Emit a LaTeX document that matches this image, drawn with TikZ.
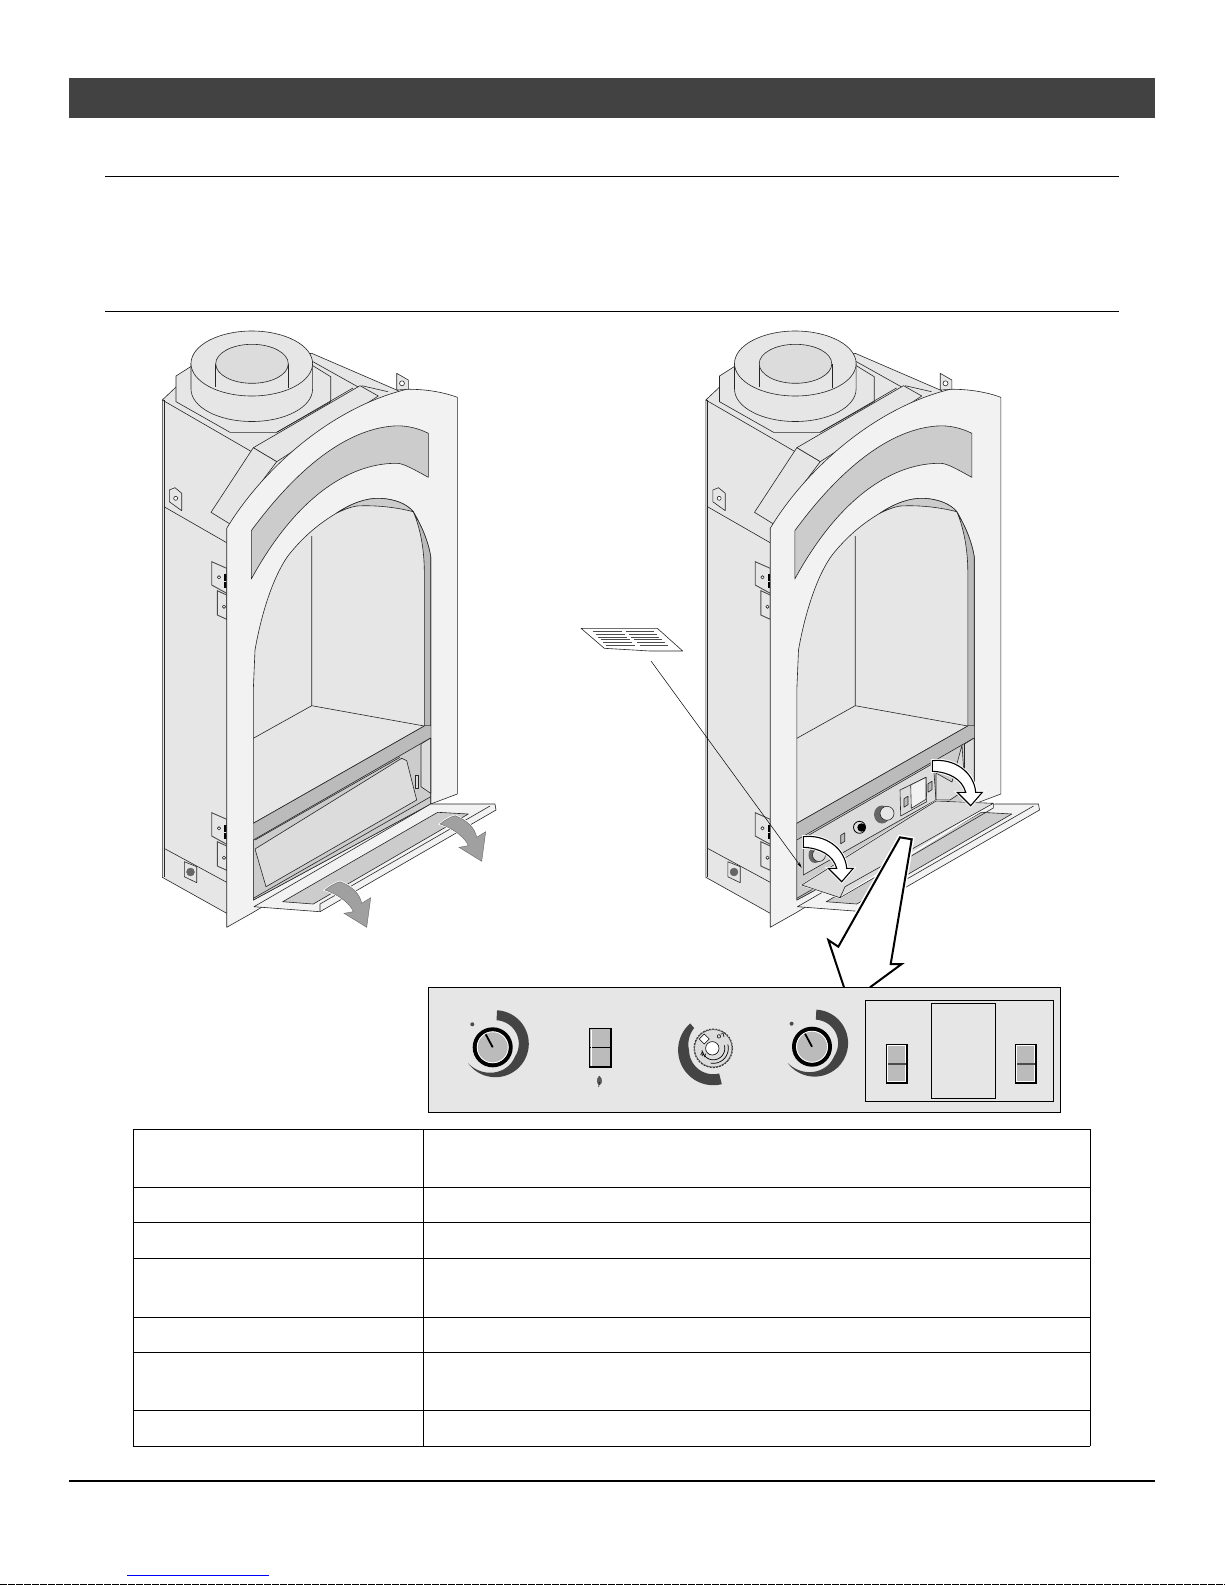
\documentclass[tikz,border=0pt]{standalone}
\usepackage{fontspec}
\setsansfont{Liberation Sans}
\usetikzlibrary{arrows.meta}
\definecolor{hdr}{HTML}{424242}
\definecolor{gf}{HTML}{F2F2F2}
\definecolor{ge}{HTML}{E6E6E6}
\definecolor{gd}{HTML}{DCDCDC}
\definecolor{gc}{HTML}{CCCCCC}
\definecolor{gb}{HTML}{BBBBBB}
\definecolor{ga}{HTML}{A0A0A0}
\definecolor{gk}{HTML}{444444}
\tikzset{
  edge/.style={draw=black!85,line width=.6pt,line join=round},
  rule/.style={black,line width=1pt},
  grayarrow/.style={fill=ga,draw=black!60,line width=.4pt},
  whitearrow/.style={fill=white,draw=black,line width=1.1pt,line join=miter},
  rockerbox/.style={fill=gb,draw=black,line width=1pt},
  dial/.style={fill=gk},
}
\begin{document}
\begin{tikzpicture}[x=1pt,y=-1pt]
	\useasboundingbox[fill=white] (0,0) rectangle (1225,1585);
	% Page furniture
	\fill[hdr] (69,78) rectangle (1155,118);
	\draw[rule] (105,176.5) -- (1119,176.5);
	\draw[rule] (105,311.5) -- (1119,311.5);
	\draw[black,line width=2pt] (69,1481) -- (1155,1481);
	\draw[blue,line width=1pt] (127,1575.3) -- (269,1575.3);
	\draw[black,line width=1pt,dash pattern=on 7pt off 1pt] (0,1584.5) -- (1225,1584.5);
	% Table
	\foreach \y in {1129,1187,1222,1258,1317,1352,1410,1446}
		\draw[rule] (133,\y) -- (1090,\y);
	\draw[rule] (133,1129) -- (133,1446);
	\draw[rule] (1090,1129) -- (1090,1446);
	\draw[black,line width=.7pt] (423,1129) -- (423,1446);
	% Fireplaces
	\foreach \dx in {0,543.5} {
		\begin{scope}[shift={(\dx,0)}]
			\filldraw[edge,fill=ge] (162.3,400) -- (192,372) -- (311.7,353.3) -- (398.3,390.7) -- (398,500) -- (226.7,913.3) -- (162.3,877.3) -- cycle; % body
			\draw[edge] (164,400) -- (164,877);
			\draw[edge] (164,506.7) -- (226.7,542.7);
			\draw[edge] (164,848.3) -- (226.7,882.3);
			\draw[edge] (162.3,400) -- (251.7,451.7);
			% top tab
			\filldraw[edge,fill=ge] (396.7,373.3) -- (396.7,390) -- (408.3,389.3) -- (408.3,380) -- cycle;
			\filldraw[edge,fill=white] (402,383.3) circle (2.5);
			% side tab
			\filldraw[edge,fill=ge] (169.3,490) -- (169.3,501.7) -- (181.7,510.7) -- (181.7,493.3) -- (175,487.7) -- cycle;
			\filldraw[edge,fill=white] (175.7,498.3) circle (2);
			% vent
			\filldraw[edge,fill=ge] (184.3,861.7) -- (184.3,876.7) -- (196.7,882.7) -- (196.7,866.7) -- cycle;
			\filldraw[black!60] (190.5,872) circle (4);
			% hinge plates
			\foreach \yy in {0,251} {
				\begin{scope}[shift={(0,\yy)}]
					\filldraw[draw=black!70,line width=.9pt,fill=ge] (211.7,561.7) -- (211.7,585) -- (226.7,593.3) -- (226.7,568.3) -- cycle;
					\filldraw[edge,fill=white] (219,577.3) circle (1.7);
					\fill[black] (224,574) rectangle (226.7,580.7);
					\fill[black] (224,582.3) rectangle (226.7,588.3);
					\filldraw[draw=black!70,line width=.9pt,fill=ge] (217.3,590.7) -- (217.3,615) -- (226.7,619.3) -- (226.7,595) -- cycle;
					\filldraw[edge,fill=white] (224,606.7) circle (1.7);
				\end{scope}
			}
			% collar and flue
			\draw[edge] (311.7,361) -- (360,388);
			\filldraw[edge,fill=ge] (176,376) -- (191.7,366) -- (311.7,365) -- (330.7,376.7) -- (330.7,401.7) -- (276.7,432.3) -- (230,432.3) -- (176,401.7) -- cycle;
			\filldraw[edge,fill=ge] (191,363.5) -- (191,389) .. controls (191,407) and (218,421.5) .. (251.8,421.5) .. controls (285.5,421.5) and (312.6,407) .. (312.6,389) -- (312.6,363.5) -- cycle;
			\filldraw[edge,fill=ge] (251.8,363.5) ellipse (60.8 and 32.5);
			\draw[edge] (215.7,364) -- (215.7,386.7);
			\draw[edge] (288.3,364) -- (288.3,388.3);
			\filldraw[edge,fill=gd] (252,363.8) ellipse (36.3 and 19.5);
			% hood
			\filldraw[edge,fill=ge] (253.3,447.7) -- (360,385.7) -- (378.3,396) -- (276.7,461.7) -- cycle;
			\draw[edge] (276.7,432.3) -- (353,388);
			\draw[edge] (361.7,385.7) -- (388,391.7);
			\filldraw[edge,fill=ge] (253.3,447.7) -- (211,512.3) -- (230,524) -- (276.7,461.7) -- cycle;
			% front frame
			\filldraw[edge,fill=gf] (226.7,927.3) -- (226.7,528.3) .. controls (262,470) and (330,408) .. (406.7,389.3) .. controls (425,389) and (443,392) .. (457.3,397.3) -- (457.3,794) -- (430.7,804) -- (253.3,912.3) -- cycle;
			\filldraw[edge,fill=gc] (251.3,530.7) .. controls (290,478) and (340,430) .. (393.3,426) .. controls (405,425) and (418,428) .. (428.3,433.3) -- (428.3,477.3) .. controls (415,470) and (403,463) .. (396.7,463.3) .. controls (355,463) and (300,490) .. (251.3,579) -- cycle;
			% opening
			\filldraw[edge,fill=ge] (253.3,900) -- (253.3,690) -- (255,650) .. controls (262,610) and (275,572) .. (290,553.3) .. controls (305,535) and (320,523) .. (336.7,513) .. controls (352,503) and (366,498) .. (380,498.3) .. controls (395,499) and (407,504) .. (413.3,511.7) .. controls (421,525) and (428,540) .. (430.7,556.7) -- (430.7,804) -- cycle;
			\filldraw[edge,fill=gc] (336.7,513) .. controls (352,503) and (366,498) .. (380,498.3) .. controls (395,499) and (407,504) .. (413.3,511.7) .. controls (395,507) and (375,505) .. (356.7,506) .. controls (350,507) and (343,510) .. (336.7,513) -- cycle;
			\filldraw[edge,fill=gb] (413.3,511.7) .. controls (419,525) and (424,545) .. (424.3,570) -- (424.3,726) -- (430.7,726) -- (430.7,556.7) .. controls (428,540) and (421,525) .. (413.3,511.7) -- cycle;
			\draw[edge] (311.7,536) -- (311.7,705.7) -- (253.3,738.3);
			\draw[edge] (311.7,705.7) -- (424.3,726);
			% recess under the floor
			\filldraw[edge,fill=gc] (253.3,823.3) -- (424.3,726) -- (430.7,726) -- (430.7,804) -- (253.3,900) -- cycle;
			\fill[gb] (253.3,823.3) -- (424.3,726) -- (430.7,726) -- (430.7,738.3) -- (253.3,840) -- cycle;
			\draw[edge] (253.3,823.3) -- (424.3,726);
			\draw[edge] (253.3,840) -- (430,738.3);
			\filldraw[edge,fill=gd] (421,744) -- (421,786.7) -- (430.7,793.3) -- (430.7,738) -- cycle;
			\draw[edge] (253.3,898.3) -- (430.7,796.7);
			% door lying open
			\filldraw[edge,fill=gf] (254,906.7) -- (320,911.7) -- (496,810) -- (495,804) -- (430.7,804) -- cycle;
			\filldraw[edge,fill=gc] (282.7,901.7) -- (313.3,904) -- (468.3,814) -- (437.7,812.3) -- cycle;
			\draw[edge] (320,911.7) -- (320,904) -- (490,806);
		\end{scope}
	}
	% left fireplace, burner cover
	\draw[edge] (255,840) -- (400,757.3);
	\filldraw[edge,fill=gd] (255,849) -- (401.7,758.3) -- (406.7,760.7) -- (416.7,800) -- (266,886.7) -- cycle;
	\filldraw[edge,fill=gd] (415.3,775) rectangle (418.7,788.3);
	\foreach \sx/\sy in {0/0,115/-66} {
		\path[draw=white,line width=2pt,shift={(\sx,\sy)}] (325,890) .. controls (330,886) and (335,883) .. (340,881.7) .. controls (352,886) and (360,894) .. (361.7,903.3) -- (370.7,897.7) -- (366.7,927.3) -- (344,913.3) -- (353.3,911.7) .. controls (351,905) and (340,895) .. (325,890) -- cycle;
		\filldraw[grayarrow,shift={(\sx,\sy)}] (325,890) .. controls (330,886) and (335,883) .. (340,881.7) .. controls (352,886) and (360,894) .. (361.7,903.3) -- (370.7,897.7) -- (366.7,927.3) -- (344,913.3) -- (353.3,911.7) .. controls (351,905) and (340,895) .. (325,890) -- cycle;
	}
	% right fireplace, control panel behind the cover
	\filldraw[edge,fill=gd] (803.3,838.3) -- (933.3,763.3) -- (936,800) -- (803.3,875) -- cycle;
	\filldraw[edge,fill=gd] (936,773) -- (952,782) -- (962,745) -- (965,790) -- (950,800) -- (936,800) -- cycle;
	\filldraw[draw=black,fill=gd,line width=.8pt] (859.5,827.3) circle (6);
	\fill[black] (861.5,827.5) circle (4.2);
	\fill[black!60] (882,814.5) ellipse (8 and 9);
	\filldraw[edge,fill=ge] (887,813.3) circle (7);
	\fill[black!60] (815,855) ellipse (6.5 and 8);
	\filldraw[edge,fill=gd] (819,855) circle (6.5);
	\filldraw[edge,fill=gd] (900,790) -- (926,777.3) -- (926.7,801.7) -- (900.7,816) -- cycle;
	\filldraw[edge,fill=gf] (910.7,785) -- (926,777.3) -- (926,799.3) -- (911.3,808.3) -- cycle;
	\foreach \sx/\sy in {842.7/838.3,906/801.7,930/786.7}
		\filldraw[edge,fill=gb] ({\sx-2},{\sy-3}) -- ({\sx+2},{\sy-5.5}) -- ({\sx+2},{\sy+3}) -- ({\sx-2},{\sy+5.5}) -- cycle;
	\filldraw[draw=white,line width=1.6pt,fill=gd] (801.7,885) -- (840,897.7) -- (993.3,803.3) -- (936,801) -- cycle;
	\filldraw[edge,fill=gd] (801.7,885) -- (840,897.7) -- (845,886.7) -- (993.3,803.3) -- (936,801) -- cycle;
	\draw[edge] (840,897.7) -- (993.3,808) -- (993.3,803.3);
	\foreach \sx/\sy in {0/0,129/-76} {
		\path[draw=white,line width=3pt,shift={(\sx,\sy)}] (803.3,836.7) .. controls (825,834) and (845,848) .. (846.7,868.3) -- (853.3,868.3) -- (841.7,881.7) -- (828.3,868.3) -- (836.7,868.3) .. controls (833,855) and (820,848) .. (803.3,847.3) -- cycle;
		\filldraw[whitearrow,shift={(\sx,\sy)}] (803.3,836.7) .. controls (825,834) and (845,848) .. (846.7,868.3) -- (853.3,868.3) -- (841.7,881.7) -- (828.3,868.3) -- (836.7,868.3) .. controls (833,855) and (820,848) .. (803.3,847.3) -- cycle;
	}
	% leaflet and its leader
	\filldraw[edge,fill=white] (581,628.3) -- (657.3,628.3) -- (682.7,651) -- (650,651) -- (604.3,648.3) -- cycle;
	\foreach \i in {0,...,5} {
		\draw[black!70,line width=.5pt] ({593+2.5*\i},{631.5+2.7*\i}) -- ({622+2.5*\i},{631.5+2.7*\i});
		\draw[black!70,line width=.5pt] ({626+2.7*\i},{631.5+2.7*\i}) -- ({654+2.7*\i},{631.5+2.7*\i});
	}
	\coordinate (leaflet) at (651,661);
	\coordinate (slot) at (801.7,867.7);
	\draw[black,line width=.5pt,-{Stealth[length=6pt,width=3pt]}] (leaflet) -- (slot);
	% callout arrow
	\filldraw[whitearrow,draw=white,line width=5pt] (900,837.3) -- (911.7,839.3) -- (890.7,964) -- (901.7,964) -- (870,987.3) -- (844,987.3) -- (828.3,940) -- (838.3,946.7) -- cycle;
	\filldraw[whitearrow,line width=2pt] (844,987.3) -- (828.3,940) -- (838.3,946.7) -- (900,837.3) -- (911.7,839.3) -- (890.7,964) -- (901.7,964) -- (870,987.3);
	% control strip
	\filldraw[draw=black,line width=1pt,fill=ge] (428.3,987.3) rectangle (1060.7,1112.3);
	\draw[black,line width=.9pt] (865.3,1000.3) rectangle (1053.7,1101.7);
	\draw[black,line width=.9pt] (931.3,1003.3) rectangle (995.7,1098.3);
	% knobs
	\foreach \kx/\ky in {492.7/1047.3,812/1046.7} {
		\fill[dial] plot[domain=87:-144,samples=40] ({\kx+2.6+33.5*cos(\x)},{\ky-3.6-33.5*sin(\x)})
			-- plot[domain=-144:87,samples=40] ({\kx+2.6+(33.5-10*min(1,(\x+144)/110))*cos(\x)},{\ky-3.6-(33.5-10*min(1,(\x+144)/110))*sin(\x)}) -- cycle;
		\filldraw[draw=black,line width=4pt,fill=gb] (\kx,\ky) circle (18);
		\draw[white,line width=.8pt] (\kx,\ky) circle (15.5);
		\draw[black,line width=1.8pt] ({\kx-7},{\ky-13}) -- (\kx,\ky);
		\fill[black!70] ({\kx-20.4},{\ky-23}) circle (2);
	}
	% rocker switches
	\filldraw[rockerbox,line width=1.6pt] (589.3,1028.3) rectangle (610.7,1066.7);
	\draw[black,line width=.8pt] (589.3,1047.3) -- (610.7,1047.3);
	\draw[white,line width=.8pt] (591.3,1029.5) -- (591.3,1065.5);
	\filldraw[draw=black!75,fill=black!65,line width=.3pt] (599.3,1076) .. controls (596,1079) and (597,1084) .. (599.3,1085) .. controls (602,1084) and (603,1079) .. (599.3,1076) -- cycle;
	\draw[black,line width=.5pt] (599.3,1082) -- (598.7,1087);
	\foreach \sx in {886.3,1015.3} {
		\draw[black,fill=white,line width=.8pt] (\sx,1044.3) rectangle ({\sx+21.4},1082.7);
		\fill[gb] ({\sx+2},1046.3) rectangle ({\sx+19},1081);
		\draw[black,line width=2pt] ({\sx+20.4},1044.3) -- ({\sx+20.4},1082.7) -- (\sx,1082.7);
		\draw[black!70,line width=1.2pt] ({\sx+2},1064) -- ({\sx+20},1064);
	}
	% flame dial
	\fill[dial] plot[domain=131:284,samples=40] ({713.3+35.2*cos(\x)},{1050-35.2*sin(\x)})
		-- plot[domain=284:131,samples=40] ({713.3+(35.2-min(11,6+(\x-131)/10))*cos(\x)},{1050-(35.2-min(11,6+(\x-131)/10))*sin(\x)}) -- cycle;
	\draw[black!80,line width=.9pt,dash pattern=on 2pt off 1.2pt] (713.3,1048.3) circle (19.3);
	\filldraw[draw=black!80,fill=gd,line width=.5pt] (713.3,1048.3) circle (18.7);
	\draw[black,line width=.7pt] plot[domain=15:-170,samples=30] ({713.3+11.5*cos(\x)},{1048.3-11.5*sin(\x)});
	\draw[black,line width=.7pt] plot[domain=15:-100,samples=30] ({713.3+15*cos(\x)},{1048.3-15*sin(\x)});
	\filldraw[draw=black,fill=white,line width=.6pt] (712.3,1048.3) circle (6.7);
	\filldraw[draw=black,fill=white,line width=.6pt] (699.3,1039) -- (704.3,1034) -- (709.3,1039) -- (704.3,1044) -- cycle;
	\node[font=\sffamily\bfseries\fontsize{5.5}{5.5}\selectfont,inner sep=0pt,rotate=195] (lolabel) at (720.7,1036.7) {LO};
	\node[font=\sffamily\bfseries\fontsize{5.5}{5.5}\selectfont,inner sep=0pt,rotate=155] (hilabel) at (703.3,1055) {HI};
\end{tikzpicture}
\end{document}
